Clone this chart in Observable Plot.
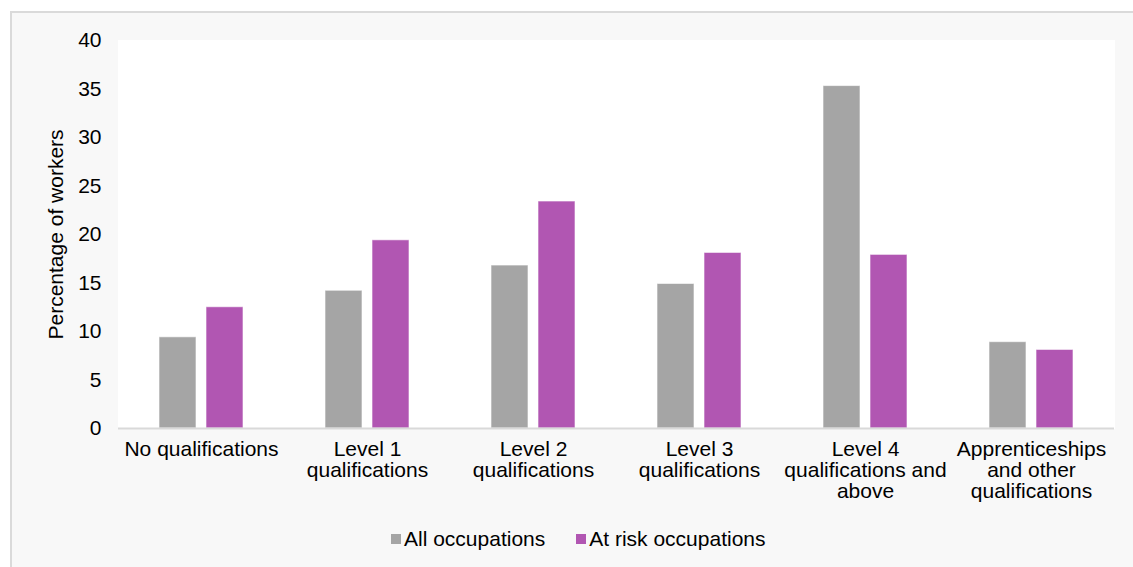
<!DOCTYPE html>
<html>
<head>
<meta charset="utf-8">
<script src="https://cdn.jsdelivr.net/npm/d3@7"></script>
<script src="https://cdn.jsdelivr.net/npm/@observablehq/plot@0.6"></script>
<style>
  html, body { margin: 0; padding: 0; background: #ffffff; }
  body { position: relative; width: 1133px; height: 567px; overflow: hidden;
         font-family: "Liberation Sans", Arial, Helvetica, sans-serif; }
  #panel { position: absolute; left: 10px; top: 11px; right: 0; bottom: 0;
           background: #f8f8f8; border-left: 2px solid #dadada; border-top: 2px solid #dadada; }
  #chart { position: absolute; left: 0; top: 0; }
  #legend { position: absolute; left: 391px; top: 526px; display: flex; align-items: center;
            font-size: 21px; line-height: 26px; color: #000; gap: 31px; }
  .item { display: flex; align-items: center; }
  .swatch { width: 10px; height: 10px; margin-right: 3px; }
</style>
</head>
<body>
<div id="panel"></div>
<div id="chart"></div>
<div id="legend"></div>
<script>
// Share of workers by highest qualification
const categories = [
  "No qualifications",
  "Level 1\nqualifications",
  "Level 2\nqualifications",
  "Level 3\nqualifications",
  "Level 4\nqualifications and\nabove",
  "Apprenticeships\nand other\nqualifications"
];
const series = ["All occupations", "At risk occupations"];
const allOccupations = [9.4, 14.2, 16.8, 14.9, 35.3, 8.9];
const atRiskOccupations = [12.5, 19.4, 23.4, 18.1, 17.9, 8.1];
const seriesColors = ["#a5a5a5", "#b156b2"];
const yTicks = [0, 5, 10, 15, 20, 25, 30, 35, 40];

const rows = categories.flatMap((category, i) => [
  {category, series: series[0], value: allOccupations[i]},
  {category, series: series[1], value: atRiskOccupations[i]}
]);

const chart = Plot.plot({
  width: 1133,
  height: 510,
  marginLeft: 117,
  marginRight: 19,
  marginTop: 40,
  marginBottom: 82,
  style: {background: "transparent", fontFamily: "'Liberation Sans', Arial, Helvetica, sans-serif", fontSize: "21px", color: "#000"},
  fx: {domain: categories, paddingInner: 0, paddingOuter: 0, label: null},
  x: {domain: series, paddingInner: 0.221, paddingOuter: 0.86, axis: null},
  y: {domain: [0, 40]},
  color: {domain: series, range: seriesColors},
  marks: [
    Plot.frame({fill: "white", stroke: "white", strokeWidth: 1}),
    Plot.barY(rows, {fx: "category", x: "series", y: "value", fill: "series",
                     stroke: "white", strokeOpacity: 0.6, strokeWidth: 1}),
    Plot.ruleY([0], {stroke: "#d9d9d9", strokeWidth: 2}),
    Plot.axisY({ticks: yTicks, tickSize: 0, tickPadding: 17, fontSize: 21,
                label: "Percentage of workers", labelAnchor: "center", labelArrow: "none", labelOffset: 70}),
    Plot.axisFx({anchor: "bottom", tickSize: 0, tickPadding: 13, fontSize: 21, lineHeight: 1, label: null})
  ]
});
document.getElementById("chart").append(chart);

// Legend below the chart
const legend = d3.select("#legend");
series.forEach((name, i) => {
  const item = legend.append("div").attr("class", "item");
  item.append("div").attr("class", "swatch").style("background", seriesColors[i]);
  item.append("span").text(name);
});
</script>
</body>
</html>
